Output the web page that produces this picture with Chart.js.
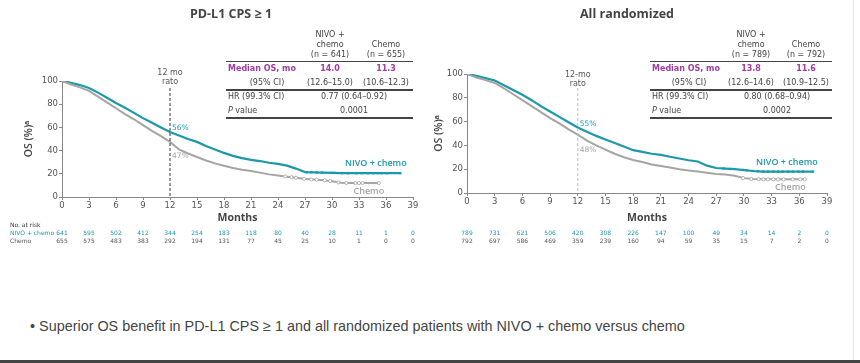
<!DOCTYPE html>
<html>
<head>
<meta charset="utf-8">
<script src="https://cdn.jsdelivr.net/npm/chart.js@4.4.1/dist/chart.umd.min.js"></script>
<style>
html, body { margin: 0; padding: 0; background: #fff; }
#page { position: relative; width: 860px; height: 363px; overflow: hidden; font-family: "DejaVu Sans", sans-serif; color: #444; }
canvas { position: absolute; top: 0; }
.t { position: absolute; white-space: nowrap; line-height: 1; }
.hl { position: absolute; background: #444; }
</style>
</head>
<body>
<div id="page">
  <canvas id="cLeft" width="430" height="250" style="left:0"></canvas>
  <canvas id="cRight" width="430" height="250" style="left:430px"></canvas>
</div>
<script>
// --- data ---
const monthTicks = [0, 3, 6, 9, 12, 15, 18, 21, 24, 27, 30, 33, 36, 39];

// PD-L1 CPS >= 1
const cpsNivoT = [0, 1, 2, 3, 4, 5, 6, 7, 8, 9, 10, 11, 12, 13, 14, 15, 16, 17, 18, 19, 20, 21, 22, 23, 24, 25, 26, 27, 28, 29, 30, 31, 32, 34, 36, 37.6];
const cpsNivoV = [100, 98.5, 96.5, 94, 90, 85.5, 81, 77, 72.5, 68, 64, 60, 56, 53, 50, 47.5, 44, 41, 38, 35.5, 33.5, 32, 31, 29.5, 28.5, 27, 24.5, 21.5, 21.3, 21, 20.8, 20.6, 20.5, 20.5, 20.5, 20.5];
const cpsChemoT = [0, 1, 2, 3, 4, 5, 6, 7, 8, 9, 10, 11, 12, 13, 14, 15, 16, 17, 18, 19, 20, 21, 22, 23, 24, 25, 26, 27, 28, 29, 30, 31, 32, 34, 35.3];
const cpsChemoV = [100, 97, 94.5, 91.5, 86.5, 81.5, 76.5, 71.5, 67, 62, 57, 52.5, 47.5, 41, 37.5, 34.5, 31.5, 29, 27, 25, 23.5, 22.5, 21, 19.5, 18.5, 17.5, 16.5, 15.5, 15, 14.5, 13.5, 12.3, 12, 12, 12];
const cpsNivoCensT = [27.2, 27.7, 28.3, 28.9, 30, 30.3, 31.1, 31.8, 32.7, 33.3, 34, 34.6, 35.1, 35.5, 36.1, 37.6];
const cpsNivoCensV = [21.4, 21.3, 21.2, 21, 20.8, 20.8, 20.6, 20.5, 20.5, 20.5, 20.5, 20.5, 20.5, 20.5, 20.5, 20.5];
const cpsChemoCensT = [24.8, 25.5, 26, 26.9, 27.7, 28.3, 29.2, 29.8, 30.7, 31.6, 32.6, 33, 33.4, 35.2];
const cpsChemoCensV = [17.7, 17.2, 16.5, 15.6, 15.1, 14.9, 14.4, 13.8, 12.6, 12.1, 12, 12, 12, 12];
const cpsRiskNivo = [641, 595, 502, 412, 344, 254, 183, 118, 80, 40, 28, 11, 1, 0];
const cpsRiskChemo = [655, 575, 483, 383, 292, 194, 131, 77, 45, 25, 10, 1, 0, 0];
const cpsN = [641, 655];
const cpsMedian = ['14.0', '11.3'];
const cpsCI = ['(12.6–15.0)', '(10.6–12.3)'];
const cpsHR = '0.77 (0.64–0.92)';
const cpsP = '0.0001';
const cpsRate12 = ['56%', '47%'];

// All randomized
const allNivoT = [0, 1, 2, 3, 4, 5, 6, 7, 8, 9, 10, 11, 12, 13, 14, 15, 16, 17, 18, 19, 20, 21, 22, 23, 24, 25, 26, 27, 28, 29, 30, 31, 32, 34, 36, 37.5];
const allNivoV = [100, 98.5, 96.5, 94.5, 90.5, 86.5, 82.5, 78, 73, 68.5, 64, 59.5, 55, 51.5, 48, 45, 42, 39, 36, 34.5, 33, 32, 30.5, 29, 27.5, 26.5, 23, 21, 20.5, 20, 19.3, 18.5, 18, 18, 18, 18];
const allChemoT = [0, 1, 2, 3, 4, 5, 6, 7, 8, 9, 10, 11, 12, 13, 14, 15, 16, 17, 18, 19, 20, 21, 22, 23, 24, 25, 26, 27, 28, 29, 30, 31, 32, 34, 36.7];
const allChemoV = [100, 97, 95, 92.5, 88, 83, 78, 73, 68, 63, 58.5, 53.5, 49, 44, 40, 36.5, 33, 30, 27.7, 26, 24, 22.7, 21.5, 20, 19, 18, 17, 16, 15.5, 14.5, 12.5, 11.7, 11.5, 11.5, 11.5];
const allNivoCensT = [27.8, 28.5, 29.9, 30.3, 31, 31.5, 32.1, 32.6, 33.2, 33.7, 34.2, 34.8, 35.3, 35.9, 36.4, 37.5];
const allNivoCensV = [20.6, 20.2, 19.4, 19.1, 18.5, 18.3, 18, 18, 18, 18, 18, 18, 18, 18, 18, 18];
const allChemoCensT = [29.9, 30.8, 31.6, 32.1, 32.6, 33.2, 33.7, 34.3, 35.3, 36.1, 36.6];
const allChemoCensV = [12.6, 11.8, 11.6, 11.5, 11.5, 11.5, 11.5, 11.5, 11.5, 11.5, 11.5];
const allRiskNivo = [789, 731, 621, 506, 420, 308, 226, 147, 100, 49, 34, 14, 2, 0];
const allRiskChemo = [792, 697, 586, 469, 359, 239, 160, 94, 59, 35, 15, 7, 2, 0];
const allN = [789, 792];
const allMedian = ['13.8', '11.6'];
const allCI = ['(12.6–14.6)', '(10.9–12.5)'];
const allHR = '0.80 (0.68–0.94)';
const allP = '0.0002';
const allRate12 = ['55%', '48%'];

const TEAL = '#1c98a9';
const GREY = '#a5a5a5';
const PURPLE = '#a03c9f';

const pairs = (t, v) => t.map((x, i) => ({ x: x, y: v[i] }));

// small text helper for the html overlays
function txt(text, x, y, css, align) {
    const el = document.createElement('div');
    el.className = 't';
    el.textContent = text;
    el.style.left = x + 'px';
    el.style.top = y + 'px';
    let tx = align === 'center' ? '-50%' : (align === 'right' ? '-100%' : '0');
    el.style.transform = 'translate(' + tx + ',-50%)';
    if (css) el.style.cssText += css;
    document.getElementById('page').appendChild(el);
    return el;
}
function hline(x0, x1, y, h) {
    const el = document.createElement('div');
    el.className = 'hl';
    el.style.left = x0 + 'px';
    el.style.width = (x1 - x0) + 'px';
    el.style.top = y + 'px';
    el.style.height = h + 'px';
    document.getElementById('page').appendChild(el);
}

function statsTable(L, n, median, ci, hr, p) {
    const f = 'font-size:8px;';
    txt('NIVO +', L.c1, 35, f, 'center');
    txt('chemo', L.c1, 44.5, f, 'center');
    txt('(n = ' + n[0] + ')', L.c1, 54.5, f, 'center');
    txt('Chemo', L.c2, 44.5, f, 'center');
    txt('(n = ' + n[1] + ')', L.c2, 54.5, f, 'center');
    hline(L.x0, L.x1, 60.5, 1.5);
    txt('Median OS, mo', L.x0 + 2, 68.5, f + 'color:' + PURPLE + ';font-weight:bold;');
    txt(median[0], L.c1, 68.5, f + 'color:' + PURPLE + ';font-weight:bold;', 'center');
    txt(median[1], L.c2, 68.5, f + 'color:' + PURPLE + ';font-weight:bold;', 'center');
    txt('(95% CI)', L.ci, 83, f, 'center');
    txt(ci[0], L.c1, 83, f, 'center');
    txt(ci[1], L.c2, 83, f, 'center');
    hline(L.x0, L.x1, 89, 1.5);
    txt('HR (99.3% CI)', L.x0 + 2, 97, f);
    txt(hr, L.hr, 97, f, 'center');
    const pv = txt('', L.x0 + 2, 111, f);
    pv.innerHTML = '<i>P</i> value';
    txt(p, L.hr, 111, f, 'center');
    hline(L.x0, L.x1, 117, 2);
}

// plugin: 12-month marker, rate labels, arm labels, number at risk
const kmExtras = {
    id: 'kmExtras',
    afterDraw(chart, args, o) {
        const { ctx, scales: { x, y } } = chart;
        const x12 = x.getPixelForValue(12);
        ctx.save();
        // 12-mo dashed line
        ctx.strokeStyle = o.dashColor;
        ctx.lineWidth = 1;
        ctx.setLineDash([3, 2]);
        ctx.beginPath();
        ctx.moveTo(x12, o.dashTop);
        ctx.lineTo(x12, y.getPixelForValue(0));
        ctx.stroke();
        ctx.setLineDash([]);
        ctx.font = '8px "DejaVu Sans", sans-serif';
        ctx.fillStyle = '#555';
        ctx.textAlign = 'center';
        ctx.textBaseline = 'middle';
        ctx.fillText(o.mark12[0], x12, o.markY);
        ctx.fillText(o.mark12[1], x12, o.markY + 8.5);
        // 12-mo rates
        ctx.textAlign = 'left';
        ctx.font = '7.5px "DejaVu Sans", sans-serif';
        ctx.fillStyle = TEAL;
        ctx.fillText(o.rates[0], x12 + 2, y.getPixelForValue(o.rateAt[0]) - 4);
        ctx.fillStyle = GREY;
        ctx.fillText(o.rates[1], x12 + 2, y.getPixelForValue(o.rateAt[1]) + 14);
        // arm labels
        ctx.textAlign = 'right';
        ctx.font = '600 9px "Open Sans", sans-serif';
        ctx.fillStyle = TEAL;
        ctx.fillText('NIVO + chemo', x.getPixelForValue(o.nivoLbl[0]), y.getPixelForValue(o.nivoLbl[1]));
        ctx.fillStyle = GREY;
        ctx.fillText('Chemo', x.getPixelForValue(o.chemoLbl[0]), y.getPixelForValue(o.chemoLbl[1]));
        // number at risk
        ctx.font = '6px "DejaVu Sans", sans-serif';
        ctx.textAlign = 'left';
        if (o.showRowNames) {
            ctx.fillStyle = '#333';
            ctx.fillText('No. at risk', 10, 225.5);
            ctx.fillStyle = TEAL;
            ctx.fillText('NIVO + chemo', 10, 233.5);
            ctx.fillStyle = '#555';
            ctx.fillText('Chemo', 10, 241.5);
        }
        ctx.textAlign = 'center';
        monthTicks.forEach((m, i) => {
            const px = x.getPixelForValue(m);
            ctx.fillStyle = TEAL;
            ctx.fillText(String(o.riskNivo[i]), px, 233.5);
            ctx.fillStyle = '#555';
            ctx.fillText(String(o.riskChemo[i]), px, 241.5);
        });
        ctx.restore();
    }
};

function kmChart(id, d, o) {
    const tickFont = { family: '"DejaVu Sans", sans-serif', size: 8.5 };
    return new Chart(document.getElementById(id), {
        type: 'line',
        data: {
            datasets: [
                { data: pairs(d.nivoCT, d.nivoCV), showLine: false, pointStyle: 'rect', pointRadius: 1.6, pointBackgroundColor: TEAL, pointBorderWidth: 0 },
                { data: pairs(d.chemoCT, d.chemoCV), showLine: false, pointStyle: 'circle', pointRadius: 1.6, pointBackgroundColor: '#fff', pointBorderColor: GREY, pointBorderWidth: 0.8 },
                { data: pairs(d.chemoT, d.chemoV), borderColor: GREY, borderWidth: 2, pointRadius: 0, tension: 0 },
                { data: pairs(d.nivoT, d.nivoV), borderColor: TEAL, borderWidth: 2.2, pointRadius: 0, tension: 0 }
            ]
        },
        options: {
            responsive: false,
            animation: false,
            events: [],
            layout: { autoPadding: false, padding: o.pad },
            plugins: { legend: { display: false }, tooltip: { enabled: false }, kmExtras: o.extras },
            scales: {
                x: {
                    type: 'linear', min: 0, max: 39,
                    afterBuildTicks: s => { s.ticks = monthTicks.map(v => ({ value: v })); },
                    ticks: { font: tickFont, color: '#555', padding: 1, maxRotation: 0 },
                    grid: { display: true, drawOnChartArea: false, tickLength: 3, color: '#888' },
                    border: { color: '#888', width: 1 },
                    title: { display: true, text: 'Months', color: '#444', font: { family: '"Open Sans", sans-serif', size: 10.5, weight: 'bold' }, padding: { top: 0, bottom: o.xTitlePad } },
                    afterFit: s => { s.height = o.xH; }
                },
                y: {
                    min: 0, max: 100,
                    ticks: { stepSize: 20, font: tickFont, color: '#555', padding: 1 },
                    grid: { display: true, drawOnChartArea: false, tickLength: 3, color: '#888' },
                    border: { color: '#888', width: 1 },
                    title: { display: true, text: 'OS (%)ᵃ', color: '#444', font: { family: '"Open Sans", sans-serif', size: 10.5, weight: '600' }, padding: { top: o.yTitlePad, bottom: 0 } },
                    afterFit: s => { s.width = o.yW; }
                }
            }
        },
        plugins: [kmExtras]
    });
}

// titles
txt('PD-L1 CPS ≥ 1', 231, 14, 'font-family:"Open Sans",sans-serif;font-size:12.5px;font-weight:bold;color:#444;', 'center');
txt('All randomized', 627, 14, 'font-family:"Open Sans",sans-serif;font-size:12.5px;font-weight:bold;color:#444;', 'center');

kmChart('cLeft',
    { nivoT: cpsNivoT, nivoV: cpsNivoV, chemoT: cpsChemoT, chemoV: cpsChemoV,
      nivoCT: cpsNivoCensT, nivoCV: cpsNivoCensV, chemoCT: cpsChemoCensT, chemoCV: cpsChemoCensV },
    { pad: { left: 0, right: 17, top: 81, bottom: 0 }, yW: 62, xH: 53, xTitlePad: 26, yTitlePad: 23,
      extras: { dashColor: '#333', dashTop: 88, markY: 73, mark12: ['12 mo', 'rato'], rates: cpsRate12, rateAt: [56, 47],
                nivoLbl: [38.3, 29], chemoLbl: [35.8, 5], riskNivo: cpsRiskNivo, riskChemo: cpsRiskChemo, showRowNames: true } });

kmChart('cRight',
    { nivoT: allNivoT, nivoV: allNivoV, chemoT: allChemoT, chemoV: allChemoV,
      nivoCT: allNivoCensT, nivoCV: allNivoCensV, chemoCT: allChemoCensT, chemoCV: allChemoCensV },
    { pad: { left: 0, right: 33, top: 74, bottom: 0 }, yW: 37, xH: 57, xTitlePad: 26, yTitlePad: 3,
      extras: { dashColor: '#bbb', dashTop: 88, markY: 75, mark12: ['12-mo', 'rato'], rates: allRate12, rateAt: [55, 48],
                nivoLbl: [38, 26], chemoLbl: [36.7, 5], riskNivo: allRiskNivo, riskChemo: allRiskChemo, showRowNames: false } });

statsTable({ x0: 226, x1: 413, c1: 330, c2: 386, ci: 267, hr: 354 }, cpsN, cpsMedian, cpsCI, cpsHR, cpsP);
statsTable({ x0: 650, x1: 832, c1: 751, c2: 806, ci: 689, hr: 777 }, allN, allMedian, allCI, allHR, allP);

// bullet line and slide frame
txt('• Superior OS benefit in PD-L1 CPS ≥ 1 and all randomized patients with NIVO + chemo versus chemo', 30, 326,
    'font-family:"Liberation Sans",sans-serif;font-size:14.4px;color:#444;');
hline(0, 860, 360, 3);
const edge = document.createElement('div');
edge.style.cssText = 'position:absolute;left:853px;top:0;width:1px;height:360px;background:#e4e4e4;';
document.getElementById('page').appendChild(edge);
</script>
</body>
</html>
